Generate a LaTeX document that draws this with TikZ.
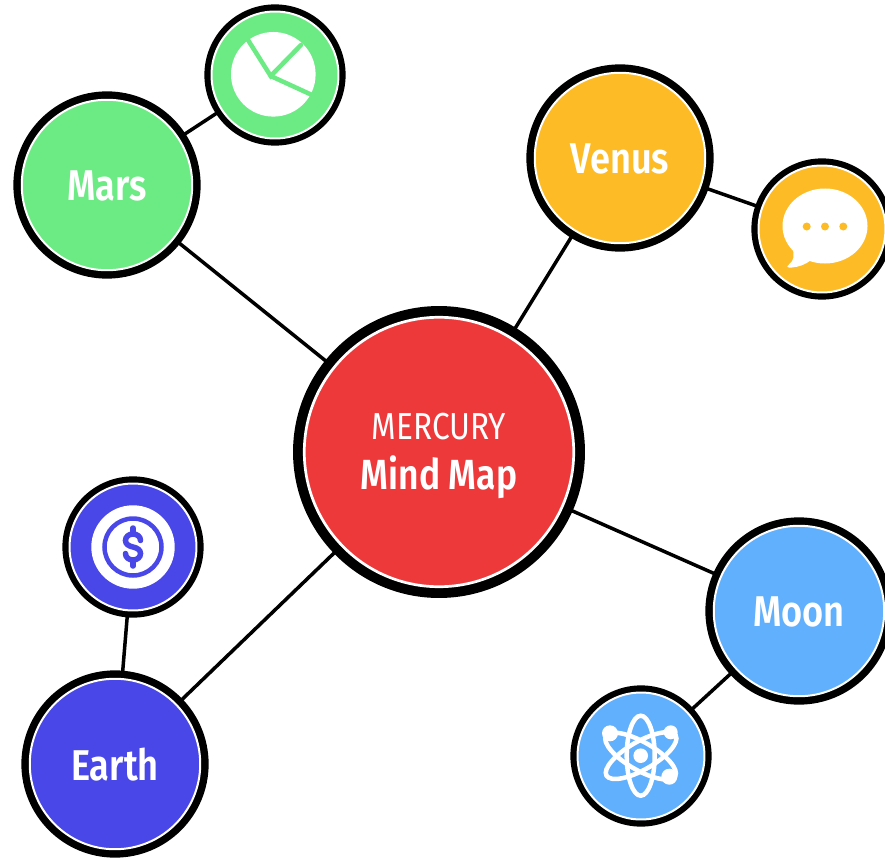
\documentclass[tikz,border=0pt]{standalone}
\usepackage{fontspec}
\setmainfont{Fira Sans}[FakeStretch=0.84,BoldFont={Fira Sans SemiBold}]
\definecolor{marsgreen}{HTML}{6CEB85}
\definecolor{venusyellow}{HTML}{FDBC25}
\definecolor{moonblue}{HTML}{60B0FD}
\definecolor{earthblue}{HTML}{4A47E8}
\definecolor{mercuryred}{HTML}{EE393B}
\tikzset{
  hub/.style={circle,inner sep=0pt,outer sep=0.04cm,minimum size=5.39cm,fill=mercuryred,draw=white,line width=0.054cm,
    preaction={draw=black,line width=0.45cm}},
  hublabel/.style={text=white,align=center,inner sep=0pt},
  planet/.style={circle,inner sep=0pt,outer sep=0.04cm,minimum size=3.41cm,draw=white,line width=0.04cm,
    preaction={draw=black,line width=0.336cm}},
  planetlabel/.style={text=white,inner sep=0pt,font=\fontsize{24.5}{27}\selectfont\bfseries},
  badge/.style={circle,inner sep=0pt,outer sep=0.04cm,minimum size=2.54cm,draw=white,line width=0.04cm,
    preaction={draw=black,line width=0.285cm}},
  link/.style={line width=0.07cm,black}
}
\begin{document}
\begin{tikzpicture}[x=0.02cm,y=-0.02cm]
  \useasboundingbox (0,0) rectangle (885,858);
  \node[hub] (mercury) at (439,452) {};
  \node[planet,fill=marsgreen] (mars) at (107,185) {};
  \node[planet,fill=venusyellow] (venus) at (620,158) {};
  \node[planet,fill=moonblue] (moon) at (799,611) {};
  \node[planet,fill=earthblue] (earth) at (115,764) {};
  \node[badge,fill=marsgreen] (pie) at (275,75) {};
  \node[badge,fill=venusyellow] (chat) at (822,229) {};
  \node[badge,fill=earthblue] (dollar) at (133,547) {};
  \node[badge,fill=moonblue] (atom) at (641,756) {};
  \draw[link] (mercury) -- (mars);
  \draw[link] (mercury) -- (venus);
  \draw[link] (mercury) -- (moon);
  \draw[link] (mercury) -- (earth);
  \draw[link] (mars) -- (pie);
  \draw[link] (venus) -- (chat);
  \draw[link] (moon) -- (atom);
  \draw[link] (earth) -- (dollar);
  \node[hublabel] (mercurytext) at (439,456) {\fontsize{21.4}{27}\selectfont MERCURY\\[0.28cm]\fontsize{24}{27}\selectfont\bfseries Mind Map};
  \node[planetlabel] (marstext) at (107,186) {Mars};
  \node[planetlabel] (venustext) at (620,159) {Venus};
  \node[planetlabel] (moontext) at (799,612) {Moon};
  \node[planetlabel] (earthtext) at (115,765) {Earth};
  % pie icon
  \begin{scope}[shift={(pie)}]
    \fill[white] (-1.7,-0.7) circle (42.3);
    \draw[marsgreen,line width=0.09cm,line cap=round] (-27,-35) -- (-4.3,1) -- (26,-30);
    \draw[marsgreen,line width=0.09cm,line cap=round] (-4.3,1) -- (37,20);
  \end{scope}
  % chat icon
  \begin{scope}[shift={(chat)}]
    \fill[white] (3,-3) ellipse (42.5 and 37.5);
    \fill[white] (-30,18) .. controls (-27,26) and (-28,32) .. (-33.5,36) .. controls (-36,38) and (-34,39) .. (-30,38.5) .. controls (-24,38) and (-17,36) .. (-11,31) -- (-5,25) -- cycle;
    \foreach \dotx in {-15.3,3,21.3}
      \fill[venusyellow] (\dotx,-2.5) circle (4);
  \end{scope}
  % dollar icon
  \begin{scope}[shift={(dollar)}]
    \fill[white] (0,0) circle (41.7);
    \draw[earthblue,line width=0.09cm] (0,0) circle (28.5);
    \draw[earthblue,line width=0.11cm,line cap=round] (7.5,-6.5) .. controls (7.5,-10.5) and (4,-13) .. (0,-13) .. controls (-4.5,-13) and (-7.5,-10) .. (-7.5,-6.5) .. controls (-7.5,-3) and (-4.5,-1) .. (0,0) .. controls (4.5,1) and (7.5,3) .. (7.5,6.5) .. controls (7.5,10) and (4.5,13) .. (0,13) .. controls (-4,13) and (-7.5,10.5) .. (-7.5,6.5);
    \draw[earthblue,line width=0.11cm,line cap=round] (0,-19) -- (0,-13) (0,13) -- (0,19);
  \end{scope}
  % atom icon
  \begin{scope}[shift={(atom)}]
    \foreach \turn in {0,60,-60}
      \draw[white,line width=0.09cm,rotate=\turn] (-0.3,-0.3) ellipse (14 and 40);
    \fill[white] (-0.3,-0.3) circle (7.3);
    \fill[white] (-31,-22.7) circle (8);
    \fill[white] (29.7,-23.7) circle (7);
    \fill[white] (28.3,20.7) circle (8);
  \end{scope}
\end{tikzpicture}
\end{document}
